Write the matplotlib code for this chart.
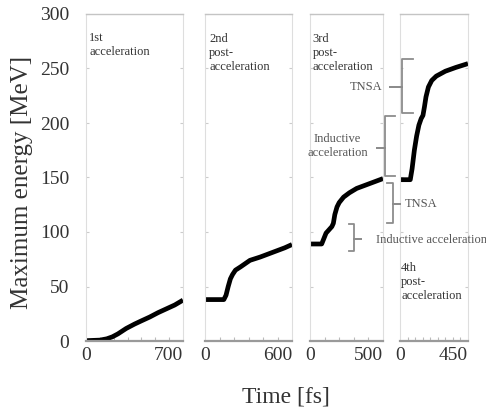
import matplotlib
matplotlib.use('Agg')
import matplotlib.pyplot as plt
from matplotlib import transforms
from matplotlib.lines import Line2D

plt.rcParams['font.family'] = ['Liberation Serif', 'DejaVu Serif']

# time [fs] and maximum energy [MeV] for each acceleration stage
t1 = [0, 100, 150, 190, 230, 290, 350, 400, 460, 520, 580, 640, 700]
e1 = [0.3, 0.8, 2, 3.8, 6.5, 11.5, 15.5, 18.5, 22, 26, 29.5, 33, 37.5]

t2 = [0, 130, 145, 160, 175, 190, 210, 245, 310, 380, 430, 500, 550, 600]
e2 = [38, 38, 42, 50, 57, 61, 65, 68, 74, 77, 79.5, 83, 85.5, 88.5]

t3 = [0, 80, 95, 110, 130, 150, 160, 170, 185, 200, 230, 270, 320, 380, 440, 500]
e3 = [89, 89, 94, 99, 102, 105, 108, 116, 123, 127, 132, 136, 140, 143, 146, 149]

t4 = [0, 68, 80, 95, 110, 125, 140, 152, 162, 172, 188, 210, 240, 300, 370, 450]
e4 = [148, 148, 158, 175, 188, 198, 204, 207, 215, 224, 233, 239, 243, 247.5, 251, 254.5]

xmax = [700, 600, 500, 450]
minor_step = [100, 100, 100, 50]
yticks = [0, 50, 100, 150, 200, 250, 300]

W, H = 486, 411
fig = plt.figure(figsize=(W/100, H/100), dpi=100)

# panel boxes in pixels (left, right)
boxes = [(86, 183), (205, 292), (310, 383), (400, 468)]
top, bot = 14, 341

axes = []
for i, (l, r) in enumerate(boxes):
    ax = fig.add_axes([l/W, 1-bot/H, (r-l)/W, (bot-top)/H])
    axes.append(ax)

series = [(t1, e1), (t2, e2), (t3, e3), (t4, e4)]
for i, ax in enumerate(axes):
    t, e = series[i]
    ax.plot(t, e, color='black', lw=3.4, solid_capstyle='butt')
    ax.set_xlim(0, xmax[i])
    ax.set_ylim(0, 300)
    ax.set_xticks([0, xmax[i]])
    ax.set_xticks(list(range(minor_step[i], xmax[i], minor_step[i])), minor=True)
    ax.set_xticklabels(['0', str(xmax[i])], fontsize=14)
    ax.get_xticklabels()[-1].set_ha('right')
    ax.tick_params(axis='x', which='major', length=0, pad=4, colors='#333333')
    ax.tick_params(axis='x', which='minor', direction='in', length=3, color='#bbbbbb', width=0.8)
    ax.set_yticks(yticks)
    ax.tick_params(axis='y', direction='in', length=2.5, color='#cccccc', width=0.8,
                   left=True, right=True)
    if i == 0:
        ax.set_yticklabels([str(v) for v in yticks], fontsize=14, color='#333333')
        ax.tick_params(axis='y', pad=12)
    else:
        ax.set_yticklabels([])
    for s in ['left', 'right']:
        ax.spines[s].set_color('#dedede')
        ax.spines[s].set_linewidth(0.8)
    ax.spines['top'].set_color('#c4c4c4')
    ax.spines['top'].set_linewidth(1.0)
    ax.spines['bottom'].set_color('#9a9a9a')
    ax.spines['bottom'].set_linewidth(1.6)

fig.text(22/W, 1-182/H, 'Maximum energy [MeV]', rotation=90, fontsize=18,
         ha='center', va='center', color='#333333')
fig.text(286/W, 1-397/H, 'Time [fs]', fontsize=17, ha='center', va='center', color='#333333')

# stage labels
lab = dict(fontsize=9, color='#333333', linespacing=1.25, va='center', ha='left')
fig.text(89/W, 1-45/H, '1st\nacceleration', **lab)
fig.text(209/W, 1-52.8/H, '2nd\npost-\nacceleration', **lab)
fig.text(312.5/W, 1-52.8/H, '3rd\npost-\nacceleration', **lab)
fig.text(401/W, 1-282/H, '4th\npost-\nacceleration', **lab)

# braces: x in figure pixels, y in energy units
bt = transforms.blended_transform_factory(fig.transFigure, axes[0].transData)
bc = '#8c8c8c'


def brace(xs, y0, y1, xh, xt, yt):
    xs, xh, xt = xs/W, xh/W, xt/W
    ln = Line2D([xh, xs, xs, xt, xs, xs, xh], [y1, y1, yt, yt, yt, y0, y0],
                transform=bt, color=bc, lw=1.3, solid_joinstyle='round', zorder=5)
    fig.add_artist(ln)


brace(401.7, 209, 259, 413, 390, 233)
brace(385, 151, 206, 395, 376.5, 177.5)
brace(392.7, 108, 144.5, 386.5, 400, 126)
brace(354, 82.5, 107, 349, 360.5, 94)

an = dict(fontsize=9, color='#555555', va='center')
fig.text(382.5/W, 1-87.3/H, 'TNSA', ha='right', **an)
fig.text(337.5/W, 1-146.3/H, 'Inductive\nacceleration', ha='center', linespacing=1.2, **an)
fig.text(405/W, 1-203.5/H, 'TNSA', ha='left', **an)
fig.text(376/W, 1-240/H, 'Inductive acceleration', ha='left', **an)

fig.savefig('out.png', dpi=100)
